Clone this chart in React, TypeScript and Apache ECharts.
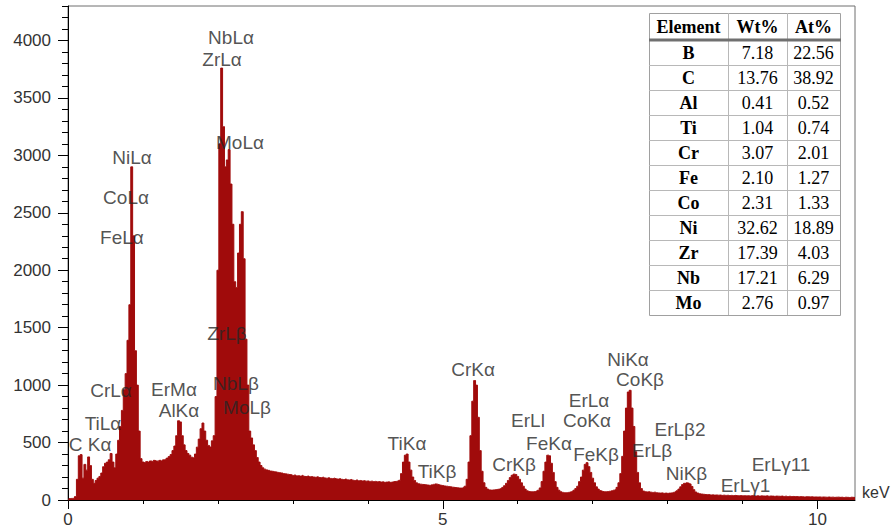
import React, { useEffect, useRef } from "react";
import * as echarts from "echarts";

// ---- Spectrum data (counts per 0.025 keV channel) ----
const ENERGY_START_KEV = 0;
const CHANNEL_WIDTH_KEV = 0.025;
const counts: number[] = [
  0, 12, 14, 15, 30, 180, 385, 395, 190, 310, 260, 375, 300, 180, 145, 170, 190, 205, 235, 290,
  320, 330, 350, 405, 330, 280, 400, 520, 640, 780, 960, 1100, 1390, 1700, 2900, 2300, 1300, 1000, 600, 360,
  330, 325, 335, 330, 340, 335, 345, 340, 338, 345, 340, 350, 355, 365, 378, 395, 430, 470, 560, 690,
  680, 560, 480, 430, 405, 390, 372, 368, 400, 460, 530, 620, 670, 600, 520, 475, 462, 515, 560, 900,
  2000, 3100, 3760, 3250, 2900, 2960, 3050, 2750, 2400, 1900, 1850, 2150, 2400, 2510, 2100, 1400, 1000, 600, 540, 480,
  430, 370, 330, 300, 280, 268, 262, 258, 252, 250, 246, 244, 240, 238, 235, 230, 228, 225, 222, 220,
  214, 218, 210, 212, 208, 214, 206, 204, 208, 202, 204, 200, 198, 202, 196, 194, 198, 192, 190, 194,
  188, 186, 190, 184, 182, 186, 180, 178, 182, 176, 174, 178, 172, 170, 174, 168, 170, 166, 168, 164,
  166, 162, 164, 160, 162, 158, 160, 156, 158, 154, 156, 158, 154, 156, 160, 162, 165, 172, 230, 330,
  390, 400, 330, 260, 200, 170, 150, 142, 138, 136, 134, 132, 130, 128, 132, 136, 140, 138, 132, 128,
  126, 122, 120, 118, 116, 112, 110, 108, 106, 104, 104, 110, 120, 180, 330, 560, 860, 1040, 1000, 720,
  430, 250, 150, 110, 95, 88, 86, 88, 90, 92, 95, 100, 110, 125, 145, 170, 195, 215, 225, 222,
  205, 180, 150, 120, 95, 80, 74, 72, 72, 74, 78, 85, 105, 160, 250, 330, 390, 385, 320, 240,
  160, 110, 85, 72, 66, 64, 64, 66, 70, 75, 85, 100, 120, 160, 200, 260, 310, 325, 290, 240,
  190, 150, 115, 95, 82, 76, 72, 72, 74, 76, 80, 85, 90, 110, 150, 230, 380, 600, 800, 940,
  955, 800, 640, 420, 240, 150, 100, 78, 72, 70, 72, 68, 66, 68, 64, 62, 60, 62, 58, 60,
  58, 60, 62, 66, 72, 80, 95, 115, 135, 145, 150, 148, 140, 118, 90, 70, 60, 55, 52, 50,
  48, 46, 47, 44, 45, 43, 44, 42, 43, 40, 42, 40, 41, 39, 40, 38, 40, 38, 37, 39,
  37, 38, 36, 37, 35, 38, 36, 35, 37, 34, 36, 35, 34, 36, 33, 35, 34, 32, 34, 33,
  32, 34, 31, 33, 30, 32, 30, 31, 29, 30, 28, 30, 29, 27, 29, 28, 27, 28, 26, 27,
  26, 27, 25, 26, 25, 24, 26, 24, 25, 23, 24, 25, 23, 24, 22, 24, 23, 22, 24, 23, 22,
];

// ---- Peak annotations (text, position in keV / counts) ----
const peakLabels: string[] = [
  "NbLα", "ZrLα", "MoLα", "NiLα", "CoLα", "FeLα", "ZrLβ", "CrLα", "ErMα", "NbLβ",
  "AlKα", "MoLβ", "TiLα", "C Kα", "TiKα", "TiKβ", "CrKα", "CrKβ", "ErLl", "FeKα",
  "ErLα", "CoKα", "FeKβ", "NiKα", "CoKβ", "ErLβ2", "ErLβ", "NiKβ", "ErLγ11", "ErLγ1",
];
const peakLabelKeV: number[] = [
  2.175, 2.055, 2.295, 0.854, 0.774, 0.72, 2.121, 0.574, 1.414, 2.241,
  1.481, 2.388, 0.467, 0.294, 4.523, 4.923, 5.404, 5.951, 6.137, 6.418,
  6.951, 6.925, 7.045, 7.472, 7.632, 8.165, 7.792, 8.252, 9.513, 9.039,
];
const peakLabelCounts: number[] = [
  4030, 3830, 3116, 2977, 2637, 2289, 1445, 949, 966, 1010,
  783, 801, 670, 479, 496, 252, 1132, 313, 688, 496,
  870, 688, 400, 1227, 1045, 618, 427, 235, 313, 122,
];

// ---- Composition table ----
const tableHeaders: string[] = ["Element", "Wt%", "At%"];
const tableElements: string[] = ["B", "C", "Al", "Ti", "Cr", "Fe", "Co", "Ni", "Zr", "Nb", "Mo"];
const tableWt: string[] = ["7.18", "13.76", "0.41", "1.04", "3.07", "2.10", "2.31", "32.62", "17.39", "17.21", "2.76"];
const tableAt: string[] = ["22.56", "38.92", "0.52", "0.74", "2.01", "1.27", "1.33", "18.89", "4.03", "6.29", "0.97"];

// ---- Axis ticks ----
const xMajorTicks: number[] = [0, 5, 10];
const xMinorTicks: number[] = [0, 1, 2, 3, 4, 5, 6, 7, 8, 9, 10];
const yMajorTicks: number[] = [0, 500, 1000, 1500, 2000, 2500, 3000, 3500, 4000];
const X_MAX = 10.5;
const Y_MAX = 4300;

const SANS = "'Liberation Sans', Arial, sans-serif";
const SERIF = "'Liberation Serif', 'Times New Roman', serif";
const SPECTRUM_COLOR = "#a00b0b";

function buildTable(): any[] {
  const x0 = 649;
  const y0 = 13;
  const colW = [79, 59, 53];
  const headerH = 27;
  const rowH = 25;
  const width = colW[0] + colW[1] + colW[2];
  const height = headerH + rowH * tableElements.length;
  const els: any[] = [];
  els.push({
    type: "rect",
    shape: { x: x0 + 0.5, y: y0 + 0.5, width, height },
    style: { fill: "#ffffff", stroke: "#a0a0a0", lineWidth: 1 },
    z: 10,
  });
  let cx = x0;
  const colCenters: number[] = [];
  colW.forEach((w, i) => {
    colCenters.push(cx + w / 2);
    cx += w;
    if (i < colW.length - 1) {
      els.push({
        type: "line",
        shape: { x1: cx + 0.5, y1: y0, x2: cx + 0.5, y2: y0 + height },
        style: { stroke: "#b8b8b8", lineWidth: 1 },
        z: 11,
      });
    }
  });
  for (let r = 1; r < tableElements.length; r++) {
    const y = y0 + headerH + r * rowH + 0.5;
    els.push({
      type: "line",
      shape: { x1: x0, y1: y, x2: x0 + width, y2: y },
      style: { stroke: "#b8b8b8", lineWidth: 1 },
      z: 11,
    });
  }
  els.push({
    type: "rect",
    shape: { x: x0, y: y0 + headerH - 1.5, width: width + 1, height: 3 },
    style: { fill: "#707070" },
    z: 12,
  });
  const textEl = (text: string, x: number, y: number, bold: boolean, size: number) => ({
    type: "text",
    x,
    y,
    z: 13,
    style: {
      text,
      fill: "#000000",
      fontFamily: SERIF,
      fontSize: size,
      fontWeight: bold ? "bold" : "normal",
      align: "center",
      verticalAlign: "middle",
      textAlign: "center",
      textVerticalAlign: "middle",
    },
  });
  tableHeaders.forEach((h, i) => els.push(textEl(h, colCenters[i], y0 + headerH / 2, true, 18)));
  tableElements.forEach((e, r) => {
    const y = y0 + headerH + r * rowH + rowH / 2 + 0.5;
    els.push(textEl(e, colCenters[0], y, true, 18));
    els.push(textEl(tableWt[r], colCenters[1], y, false, 18));
    els.push(textEl(tableAt[r], colCenters[2], y, false, 18));
  });
  return els;
}

export default function App() {
  const ref = useRef<HTMLDivElement>(null);
  useEffect(() => {
    if (!ref.current) return;
    const chart = echarts.init(ref.current, undefined, { renderer: "svg" });
    const spectrum = counts.map((c, i) => [ENERGY_START_KEV + i * CHANNEL_WIDTH_KEV, c]);
    const labelData = peakLabels.map((t, i) => ({ name: t, value: [peakLabelKeV[i], peakLabelCounts[i]] }));
    chart.setOption({
      animation: false,
      backgroundColor: "#ffffff",
      grid: {
        left: 68,
        right: 37,
        top: 6,
        bottom: 29,
        show: true,
        borderColor: "#6f6f6f",
        borderWidth: 1,
        backgroundColor: "transparent",
      },
      xAxis: [
        {
          type: "value",
          min: 0,
          max: X_MAX,
          position: "bottom",
          axisLine: { show: true, lineStyle: { color: "#000", width: 1 } },
          axisTick: { show: true, length: 9, customValues: xMajorTicks, lineStyle: { color: "#000" } },
          axisLabel: {
            show: true,
            customValues: xMajorTicks,
            formatter: (v: number) => String(v),
            margin: 11,
            color: "#333",
            fontSize: 17,
            fontFamily: SANS,
          },
          splitLine: { show: false },
        },
        {
          type: "value",
          min: 0,
          max: X_MAX,
          position: "bottom",
          axisLine: { show: false },
          axisTick: { show: true, length: 4, customValues: xMinorTicks, lineStyle: { color: "#000" } },
          axisLabel: { show: false },
          splitLine: { show: false },
        },
      ],
      yAxis: [
        {
          type: "value",
          min: 0,
          max: Y_MAX,
          position: "left",
          axisLine: { show: true, lineStyle: { color: "#000", width: 1 } },
          axisTick: { show: true, length: 10, customValues: yMajorTicks, lineStyle: { color: "#000" } },
          axisLabel: {
            show: true,
            customValues: yMajorTicks,
            formatter: (v: number) => String(v),
            margin: 17,
            color: "#333",
            fontSize: 17,
            fontFamily: SANS,
          },
          splitLine: { show: false },
        },
        {
          type: "value",
          min: 0,
          max: Y_MAX,
          interval: 100,
          position: "left",
          axisLine: { show: false },
          axisTick: { show: true, length: 6, lineStyle: { color: "#000" } },
          axisLabel: { show: false },
          splitLine: { show: false },
        },
      ],
      series: [
        {
          type: "line",
          xAxisIndex: 0,
          yAxisIndex: 0,
          data: spectrum,
          step: "middle",
          showSymbol: false,
          symbol: "none",
          lineStyle: { color: SPECTRUM_COLOR, width: 1 },
          areaStyle: { color: SPECTRUM_COLOR, opacity: 1 },
          silent: true,
          z: 2,
        },
        {
          type: "scatter",
          xAxisIndex: 0,
          yAxisIndex: 0,
          data: labelData,
          symbolSize: 1,
          itemStyle: { color: "rgba(0,0,0,0)" },
          silent: true,
          z: 5,
          label: {
            show: true,
            position: "inside",
            formatter: "{b}",
            color: "#262626",
            fontSize: 19,
            fontFamily: SANS,
          },
        },
      ],
      graphic: [
        {
          type: "text",
          x: 862,
          y: 492,
          z: 10,
          style: {
            text: "keV",
            fill: "#333",
            fontFamily: SANS,
            fontSize: 16,
            align: "left",
            verticalAlign: "middle",
            textAlign: "left",
            textVerticalAlign: "middle",
          },
        },
        ...buildTable(),
      ],
    });
    return () => chart.dispose();
  }, []);
  return (
    <div
      ref={ref}
      style={{ position: "absolute", left: 0, top: 0, width: 892, height: 529 }}
    />
  );
}
